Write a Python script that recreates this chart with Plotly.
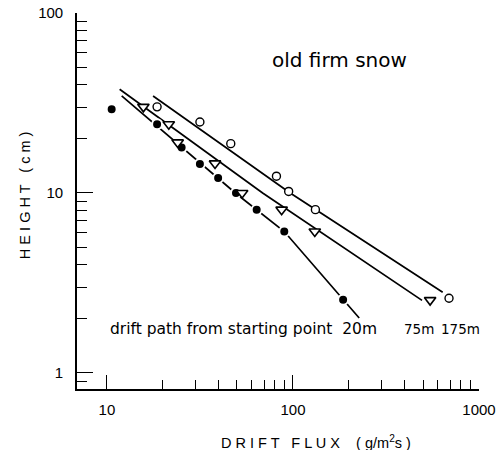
import plotly.graph_objects as go

# ---- data (drift flux g/m^2 s, height cm) ----
flux_20m = [10.6, 18.6, 25.2, 31.6, 39.6, 49.4, 63.8, 89.8, 186]
height_20m = [29.2, 24.1, 17.9, 14.5, 12.1, 10.0, 8.08, 6.11, 2.55]

flux_75m = [15.7, 21.5, 24.0, 38.1, 53.3, 86.9, 131, 546]
height_75m = [30.1, 24.1, 19.1, 14.6, 10.0, 8.08, 6.11, 2.54]

flux_175m = [18.6, 31.6, 46.3, 81.5, 94.8, 132, 690]
height_175m = [30.1, 24.8, 18.8, 12.4, 10.2, 8.08, 2.60]

# fitted lines drawn by hand in the reference
fit_flux_20m = [12.0, 49.0, 89.8, 227]
fit_height_20m = [34.6, 10.0, 6.11, 2.02]
fit_flux_75m = [11.7, 68.7, 494]
fit_height_75m = [37.7, 10.0, 2.53]
fit_flux_175m = [17.7, 96.6, 638]
fit_height_175m = [34.6, 10.0, 2.81]

x_tickvals = [10, 100, 1000]
x_ticktext = ["10", "100", "1000"]
x_minor_vals = [20, 30, 40, 50, 60, 70, 80, 90,
                200, 300, 400, 500, 600, 700, 800, 900]
y_tickvals = [1, 10, 100]
y_ticktext = ["1", "10", "100"]
y_minor_vals = [0.9, 2, 3, 4, 5, 6, 7, 8, 9,
                20, 30, 40, 50, 60, 70, 80, 90]

TICKFONT = "Liberation Sans"
TEXTFONT = "DejaVu Sans"
fig = go.Figure()

line_style = dict(color="black", width=1.7)
for fx, fy in [(fit_flux_20m, fit_height_20m),
               (fit_flux_75m, fit_height_75m),
               (fit_flux_175m, fit_height_175m)]:
    fig.add_trace(go.Scatter(x=fx, y=fy, mode="lines", line=line_style,
                             showlegend=False, hoverinfo="skip"))

fig.add_trace(go.Scatter(
    x=flux_20m, y=height_20m, mode="markers", name="20m",
    marker=dict(symbol="circle", size=10, color="black",
                line=dict(color="white", width=2)),
    showlegend=False))
fig.add_trace(go.Scatter(
    x=flux_75m, y=height_75m, mode="markers", name="75m",
    marker=dict(symbol="triangle-down", size=10, color="white",
                line=dict(color="black", width=1.6)),
    showlegend=False))
fig.add_trace(go.Scatter(
    x=flux_175m, y=height_175m, mode="markers", name="175m",
    marker=dict(symbol="circle", size=8, color="white",
                line=dict(color="black", width=1.4)),
    showlegend=False))

axis_common = dict(
    type="log", showgrid=False, zeroline=False, automargin=False,
    showline=True, linecolor="black", linewidth=1.6,
    ticks="inside", tickcolor="black", tickwidth=1.4,
    tickfont=dict(family=TICKFONT, size=15, color="black"),
    mirror=False,
)

fig.update_xaxes(
    **axis_common,
    range=[0.839, 3.0],
    tickmode="array", tickvals=x_tickvals, ticktext=x_ticktext, ticklen=14,
    ticklabelstandoff=6,
    minor=dict(ticks="inside", tickmode="array", tickvals=x_minor_vals,
               ticklen=9, tickcolor="black", tickwidth=1.2, showgrid=False),
)
fig.update_yaxes(
    **axis_common,
    range=[-0.089, 2.0],
    tickmode="array", tickvals=y_tickvals, ticktext=y_ticktext, ticklen=16,
    ticklabelstandoff=9,
    minor=dict(ticks="inside", tickmode="array", tickvals=y_minor_vals,
               ticklen=10, tickcolor="black", tickwidth=1.2, showgrid=False),
)

def note(text, x, y, size, family=TEXTFONT, xanchor="center", angle=0):
    fig.add_annotation(text=text, xref="paper", yref="paper", x=x, y=y,
                       xanchor=xanchor, yanchor="middle", textangle=angle,
                       showarrow=False,
                       font=dict(family=family, size=size, color="black"))

# axis titles
note("D R I F T   F L U X    ( g/m<sup>2</sup>s )", 0.595, -0.141, 14.5,
     family=TICKFONT)
note("H E I G H T   ( c m )", -0.129, 0.516, 14.5, family=TICKFONT, angle=-90)

note("old firm snow", 0.652, 0.875, 20)
note("drift path from starting point  20m", 0.077, 0.160, 15.5,
     xanchor="left")
note("75m", 0.851, 0.160, 13.5)
note("175m", 0.955, 0.160, 13.5)

fig.update_layout(
    width=502, height=450,
    margin=dict(l=77, r=23, t=13, b=61),
    paper_bgcolor="white", plot_bgcolor="white",
    showlegend=False,
)

fig.write_html(
    "out.html",
    config={"displayModeBar": False},
    post_script="document.body.style.margin='0';"
                "document.body.style.padding='0';"
                "document.documentElement.style.overflow='hidden';",
)
